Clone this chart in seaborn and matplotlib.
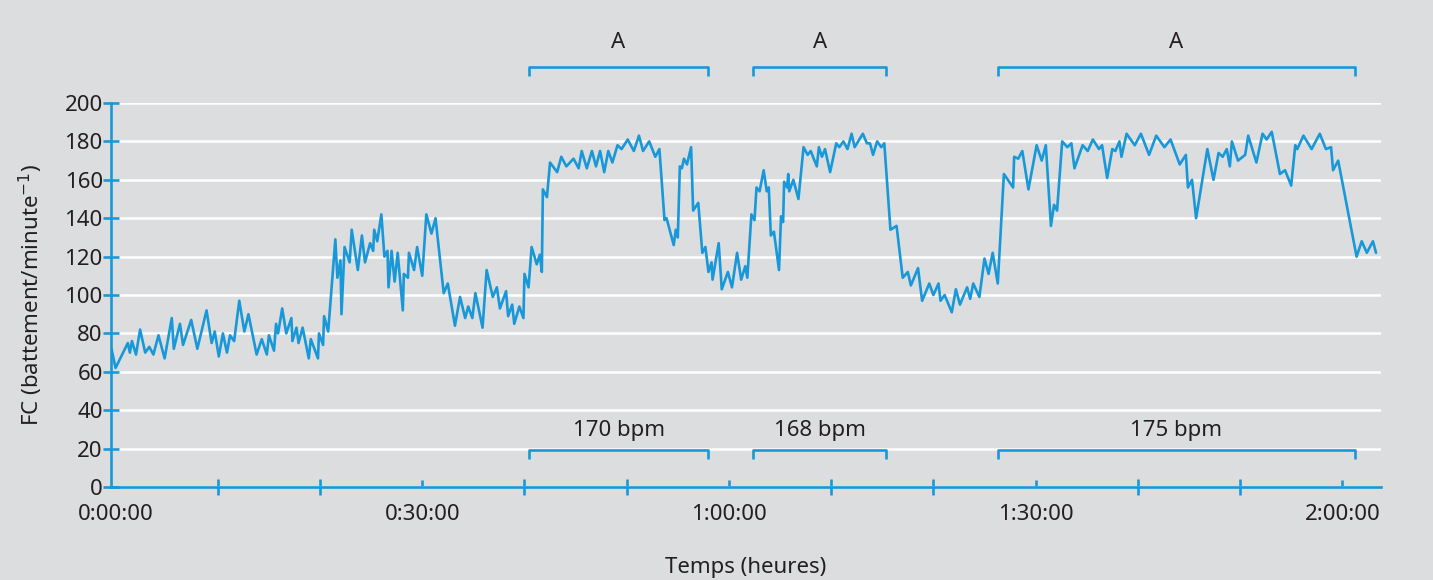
import matplotlib
matplotlib.use("Agg")
import matplotlib.pyplot as plt
from matplotlib.ticker import MultipleLocator, FuncFormatter
import pandas as pd
import seaborn as sns

# heart rate trace, time in minutes
time_min = [
    -0.4, 0.0, 1.2, 1.4, 1.6, 2.0, 2.4, 2.9, 3.3, 3.7, 4.2, 4.8, 5.5, 5.7, 6.3, 6.6, 7.4, 8.0, 8.9, 9.4,
    9.7, 10.1, 10.5, 10.9, 11.2, 11.6, 12.1, 12.6, 13.0, 13.8, 14.3, 14.8, 15.0, 15.5, 15.7, 15.9, 16.3, 16.7, 17.2, 17.3,
    17.7, 17.9, 18.3, 18.9, 19.1, 19.8, 19.9, 20.3, 20.4, 20.8, 21.5, 21.7, 22.0, 22.1, 22.4, 22.9, 23.1, 23.7, 24.1, 24.4,
    24.9, 25.2, 25.3, 25.6, 26.0, 26.3, 26.6, 26.7, 27.0, 27.3, 27.6, 28.1, 28.2, 28.6, 28.7, 29.2, 29.5, 30.0, 30.4, 30.9,
    31.3, 32.1, 32.5, 33.2, 33.7, 34.2, 34.5, 34.9, 35.2, 35.9, 36.3, 36.9, 37.3, 37.6, 38.2, 38.4, 38.8, 39.0, 39.5, 39.9,
    40.0, 40.4, 40.7, 41.2, 41.5, 41.7, 41.8, 42.2, 42.5, 43.2, 43.6, 44.1, 44.8, 45.3, 45.6, 46.1, 46.6, 47.0, 47.4, 47.8,
    48.2, 48.6, 49.1, 49.5, 50.1, 50.7, 51.2, 51.6, 52.2, 52.8, 53.2, 53.7, 53.9, 54.6, 54.8, 55.0, 55.2, 55.4, 55.6, 55.9,
    56.3, 56.5, 57.0, 57.4, 57.7, 58.0, 58.3, 58.4, 59.0, 59.3, 59.9, 60.3, 60.8, 61.2, 61.6, 61.8, 62.2, 62.5, 62.7, 63.0,
    63.4, 63.7, 63.9, 64.1, 64.4, 64.9, 65.1, 65.3, 65.4, 65.7, 65.8, 65.9, 66.3, 66.8, 67.3, 67.7, 68.0, 68.6, 68.8, 69.1,
    69.4, 69.9, 70.5, 70.8, 71.2, 71.6, 72.0, 72.3, 73.1, 73.5, 73.8, 74.1, 74.5, 74.9, 75.2, 75.8, 76.4, 77.0, 77.5, 77.8,
    78.5, 78.9, 79.6, 80.0, 80.5, 80.7, 81.1, 81.8, 82.2, 82.6, 83.3, 83.6, 83.9, 84.5, 85.0, 85.4, 85.8, 86.3, 86.9, 87.8,
    87.9, 88.3, 88.7, 89.3, 90.1, 90.6, 91.0, 91.5, 91.8, 92.1, 92.6, 93.1, 93.5, 93.8, 94.6, 95.1, 95.6, 96.2, 96.5, 97.0,
    97.5, 97.8, 98.2, 98.4, 98.9, 99.7, 100.3, 101.1, 101.8, 102.6, 103.2, 104.1, 104.7, 104.9, 105.3, 105.7, 106.8, 107.4, 107.9, 108.3,
    108.7, 109.0, 109.2, 109.8, 110.5, 110.8, 111.6, 112.2, 112.6, 113.1, 113.9, 114.4, 115.0, 115.4, 115.6, 116.2, 117.0, 117.8, 118.4, 118.9,
    119.1, 119.6, 121.4, 121.9, 122.4, 123.0, 123.3,
]
heart_rate = [
    72, 62, 75, 70, 76, 69, 82, 70, 73, 69, 79, 67, 88, 72, 85, 74, 87, 72, 92, 75,
    81, 68, 80, 70, 79, 76, 97, 81, 90, 69, 77, 69, 79, 71, 85, 80, 93, 80, 88, 76,
    83, 75, 83, 67, 77, 67, 80, 74, 89, 81, 129, 109, 118, 90, 125, 117, 134, 113, 131, 117,
    127, 123, 134, 128, 142, 120, 123, 104, 123, 107, 122, 92, 111, 109, 122, 113, 125, 110, 142, 132,
    140, 101, 106, 84, 99, 88, 94, 88, 101, 83, 113, 99, 104, 93, 102, 89, 95, 85, 94, 88,
    111, 104, 125, 116, 121, 112, 155, 151, 169, 164, 172, 167, 171, 166, 175, 166, 175, 167, 175, 164,
    175, 169, 178, 176, 181, 175, 183, 175, 180, 172, 176, 139, 140, 126, 134, 130, 167, 166, 171, 168,
    177, 144, 148, 122, 125, 112, 117, 108, 127, 103, 112, 104, 122, 108, 115, 109, 142, 139, 156, 154,
    165, 154, 156, 131, 133, 113, 141, 138, 159, 156, 163, 154, 160, 150, 177, 173, 175, 167, 177, 172,
    176, 164, 179, 177, 180, 176, 184, 177, 184, 179, 179, 173, 180, 177, 179, 134, 136, 109, 112, 105,
    114, 97, 106, 100, 106, 97, 100, 91, 103, 95, 104, 98, 106, 99, 119, 111, 122, 106, 163, 156,
    172, 171, 175, 155, 178, 170, 178, 136, 147, 144, 180, 177, 179, 166, 178, 175, 181, 176, 178, 161,
    176, 175, 180, 172, 184, 178, 184, 173, 183, 177, 181, 168, 173, 156, 160, 140, 176, 160, 174, 172,
    176, 167, 180, 170, 173, 183, 169, 184, 181, 185, 163, 165, 157, 178, 176, 183, 176, 184, 176, 177,
    165, 170, 120, 128, 122, 128, 122,
]

# effort intervals "A"
interval_start = [40.4, 62.4, 86.3]
interval_end = [58.0, 75.4, 121.2]
interval_bpm = ["170 bpm", "168 bpm", "175 bpm"]

BLUE = "#1898d8"
BG = "#dcdddf"
TXT = "#231f20"

sns.set_style("darkgrid", {"axes.facecolor": BG, "figure.facecolor": BG,
                           "grid.color": "white"})
plt.rcParams["font.family"] = ["Noto Sans", "DejaVu Sans"]

df = pd.DataFrame({"t": time_min, "fc": heart_rate})

fig = plt.figure(figsize=(14.33, 5.8), dpi=100)
ax = fig.add_axes([0.0775, 0.1603, 0.8863, 0.6621])

sns.lineplot(data=df, x="t", y="fc", ax=ax, color=BLUE, linewidth=1.9,
             estimator=None, sort=False)

ax.set_xlim(-0.44, 123.8)
ax.set_ylim(0, 200)
ax.yaxis.set_major_locator(MultipleLocator(20))
ax.xaxis.set_major_locator(MultipleLocator(30))
ax.xaxis.set_minor_locator(MultipleLocator(10))


def fmt_time(v, pos):
    m = int(round(v))
    return "%d:%02d:00" % (m // 60, m % 60)


ax.xaxis.set_major_formatter(FuncFormatter(fmt_time))

ax.grid(axis="y", color="white", linewidth=1.8)
ax.grid(axis="x", visible=False)
ax.set_axisbelow(True)

for s in ["top", "right"]:
    ax.spines[s].set_visible(False)
for s in ["left", "bottom"]:
    ax.spines[s].set_visible(True)
    ax.spines[s].set_color(BLUE)
    ax.spines[s].set_linewidth(1.9)

ax.tick_params(axis="y", which="major", direction="inout", length=12, width=1.9,
               color=BLUE, labelsize=16, labelcolor=TXT, pad=0, left=True)
ax.tick_params(axis="x", which="minor", direction="inout", length=11.5, width=1.9,
               color=BLUE, bottom=True)
ax.tick_params(axis="x", which="major", direction="in", length=5, width=1.9,
               color=BLUE, labelsize=16, labelcolor=TXT, pad=12, bottom=True)

ax.set_xlabel("Temps (heures)", fontsize=16, color=TXT, labelpad=23)
ax.set_ylabel("FC (battement/minute$^{-1}$)", fontsize=16, color=TXT, labelpad=14)

# no tick mark at the origin, the y spine sits there
for loc, tk in zip(ax.get_xticks(), ax.xaxis.get_major_ticks()):
    if loc == 0:
        tk.tick1line.set_visible(False)

# brackets above and below
for a, b, lab in zip(interval_start, interval_end, interval_bpm):
    for yb, tick, ytxt, txt in [(218.8, 4.5, 231.5, "A"), (19.3, 4.5, 29.5, lab)]:
        ax.plot([a, a, b, b], [yb - tick, yb, yb, yb - tick], color=BLUE,
                linewidth=1.9, clip_on=False, solid_capstyle="butt")
        ax.text((a + b) / 2, ytxt, txt, ha="center", va="center",
                fontsize=16, color=TXT, clip_on=False)

fig.savefig("out.png", dpi=100, facecolor=BG)
